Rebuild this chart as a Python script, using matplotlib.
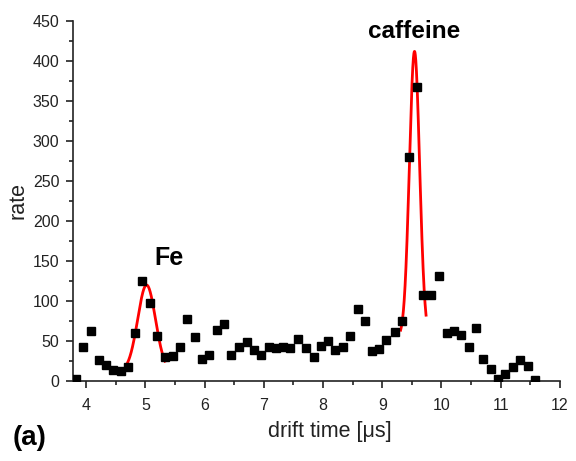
import numpy as np
import matplotlib.pyplot as plt
from matplotlib.ticker import MultipleLocator

plt.rcParams['font.family'] = ['Liberation Sans', 'DejaVu Sans']

# measured drift time spectrum
drift = [3.83, 3.95, 4.08, 4.21, 4.33, 4.46, 4.58, 4.70, 4.83, 4.95,
         5.07, 5.20, 5.33, 5.46, 5.58, 5.70, 5.83, 5.95, 6.08, 6.21,
         6.33, 6.45, 6.58, 6.71, 6.83, 6.95, 7.08, 7.21, 7.33, 7.45,
         7.58, 7.71, 7.84, 7.96, 8.08, 8.21, 8.33, 8.46, 8.59, 8.71,
         8.83, 8.95, 9.07, 9.21, 9.34, 9.46, 9.59, 9.69, 9.83, 9.96,
         10.09, 10.21, 10.33, 10.46, 10.58, 10.71, 10.83, 10.96, 11.08, 11.21,
         11.33, 11.46, 11.58]
rate = [3, 43, 62, 26, 20, 14, 12, 17, 60, 125,
        97, 56, 30, 31, 42, 78, 55, 28, 33, 64,
        71, 33, 43, 49, 39, 33, 43, 41, 43, 41,
        52, 41, 30, 44, 50, 39, 43, 56, 90, 75,
        37, 40, 51, 61, 75, 280, 368, 107, 108, 131,
        60, 62, 57, 43, 66, 28, 15, 3, 9, 17,
        26, 19, 1]

# gaussian fits: (x from, x to, offset, amplitude, centre, sigma)
fe_fit = (4.70, 5.33, 12, 108, 5.02, 0.15)
caf_fit = (9.31, 9.74, 55, 357, 9.545, 0.086)

fig = plt.figure(figsize=(5.76, 4.61), dpi=100)
ax = fig.add_axes([0.127, 0.1735, 0.845, 0.781])

ax.plot(drift, rate, 's', color='black', ms=5.5, zorder=3)

for x0, x1, y0, a, c, s in (fe_fit, caf_fit):
    xf = np.linspace(x0, x1, 200)
    ax.plot(xf, y0 + a*np.exp(-(xf-c)**2/(2*s**2)), color='red', lw=2, zorder=2)

ax.set_xlim(3.78, 12)
ax.set_ylim(0, 450)
ax.xaxis.set_major_locator(MultipleLocator(1))
ax.xaxis.set_minor_locator(MultipleLocator(0.5))
ax.yaxis.set_major_locator(MultipleLocator(50))
ax.yaxis.set_minor_locator(MultipleLocator(25))
ax.tick_params(which='major', length=5, width=1.2, labelsize=11.5, colors='#222222', pad=5)
ax.tick_params(axis='x', which='major', pad=7)
ax.tick_params(which='minor', length=3, width=1.2, colors='#222222')
for side in ('top', 'right'):
    ax.spines[side].set_visible(False)
for side in ('left', 'bottom'):
    ax.spines[side].set_linewidth(1.2)
    ax.spines[side].set_color('#222222')

ax.set_xlabel('drift time [\u03bcs]', fontsize=15.5, color='#222222')
ax.set_ylabel('rate', fontsize=15.5, color='#222222', labelpad=3)
ax.xaxis.set_label_coords(0.528, -0.11)

ax.text(5.40, 154, 'Fe', fontsize=18, fontweight='bold', ha='center', va='center')
ax.text(9.54, 437, 'caffeine', fontsize=17.5, fontweight='bold', ha='center', va='center')
fig.text(0.052, 0.05, '(a)', fontsize=20, fontweight='bold', ha='center', va='center')

fig.savefig('out.png', dpi=100)
